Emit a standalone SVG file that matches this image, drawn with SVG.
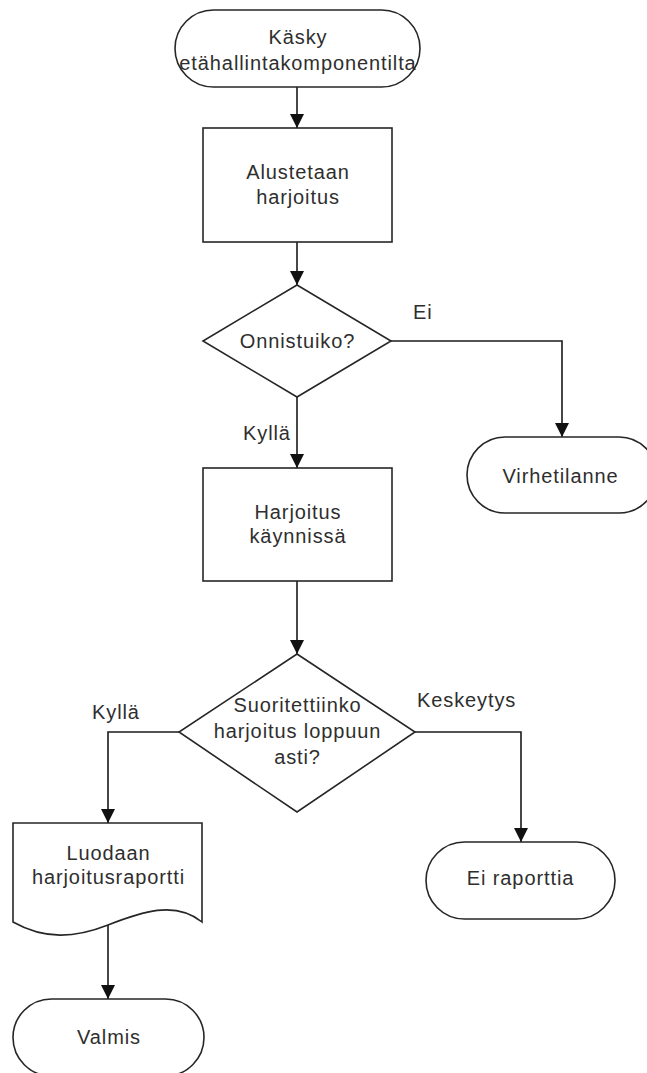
<svg xmlns="http://www.w3.org/2000/svg" width="647" height="1073" viewBox="0 0 647 1073">
<style>
.shape{fill:#fff;stroke:#262626;stroke-width:1.6}
.conn{fill:none;stroke:#1a1a1a;stroke-width:1.6}
text{font-family:"Liberation Sans",Arial,sans-serif;font-size:20px;letter-spacing:0.9px;fill:#2e2e2e}
.c{text-anchor:middle}
</style>
<defs>
<marker id="arr" viewBox="0 0 14 14" refX="14" refY="7" markerWidth="14" markerHeight="14" orient="auto" markerUnits="userSpaceOnUse">
<path d="M0,0 L14,7 L0,14 z" fill="#111"/>
</marker>
</defs>
<rect width="647" height="1073" fill="#fff"/>
<g id="connectors">
<path class="conn" d="M297,87 V128" marker-end="url(#arr)"/>
<path class="conn" d="M297,242 V285" marker-end="url(#arr)"/>
<path class="conn" d="M297,397 V468" marker-end="url(#arr)"/>
<path class="conn" d="M391,341 H562 V437" marker-end="url(#arr)"/>
<path class="conn" d="M297,581 V654" marker-end="url(#arr)"/>
<path class="conn" d="M179,732 H108 V823" marker-end="url(#arr)"/>
<path class="conn" d="M415,732 H521 V842" marker-end="url(#arr)"/>
<path class="conn" d="M108,925 V999" marker-end="url(#arr)"/>
<text x="413" y="319">Ei</text>
<text x="243" y="440">Kyllä</text>
<text x="92" y="719">Kyllä</text>
<text x="417" y="707">Keskeytys</text>
</g>
<g id="start">
<rect class="shape" x="175" y="10" width="245" height="77" rx="38.5"/>
<text class="c" x="298" y="44">Käsky</text>
<text class="c" x="298" y="70">etähallintakomponentilta</text>
</g>
<g id="alustetaan">
<rect class="shape" x="203" y="128" width="189" height="114"/>
<text class="c" x="298" y="179">Alustetaan</text>
<text class="c" x="298" y="204">harjoitus</text>
</g>
<g id="onnistuiko">
<path class="shape" d="M297,285 L391,341 L297,397 L203,341 Z"/>
<text class="c" x="297.5" y="348">Onnistuiko?</text>
</g>
<g id="virhetilanne">
<rect class="shape" x="467" y="437" width="190" height="76" rx="38"/>
<text class="c" x="560.5" y="483">Virhetilanne</text>
</g>
<g id="harjoitus">
<rect class="shape" x="203" y="468" width="189" height="113"/>
<text class="c" x="298" y="519">Harjoitus</text>
<text class="c" x="298" y="543">käynnissä</text>
</g>
<g id="suoritettiinko">
<path class="shape" d="M297,654 L415,732 L297,812 L179,732 Z"/>
<text class="c" x="297.5" y="712">Suoritettiinko</text>
<text class="c" x="297.5" y="738">harjoitus loppuun</text>
<text class="c" x="297.5" y="764">asti?</text>
</g>
<g id="raportti">
<path class="shape" d="M13,823 H202 V922 C175,900 141,912 108,925 C75,938 45,940 13,922 Z"/>
<text class="c" x="108.5" y="860">Luodaan</text>
<text class="c" x="108.5" y="884">harjoitusraportti</text>
</g>
<g id="ei-raporttia">
<rect class="shape" x="426" y="842" width="189" height="77" rx="38.5"/>
<text class="c" x="520.5" y="885">Ei raporttia</text>
</g>
<g id="valmis">
<rect class="shape" x="13" y="999" width="191" height="77" rx="38.5"/>
<text class="c" x="109" y="1044">Valmis</text>
</g>
</svg>
